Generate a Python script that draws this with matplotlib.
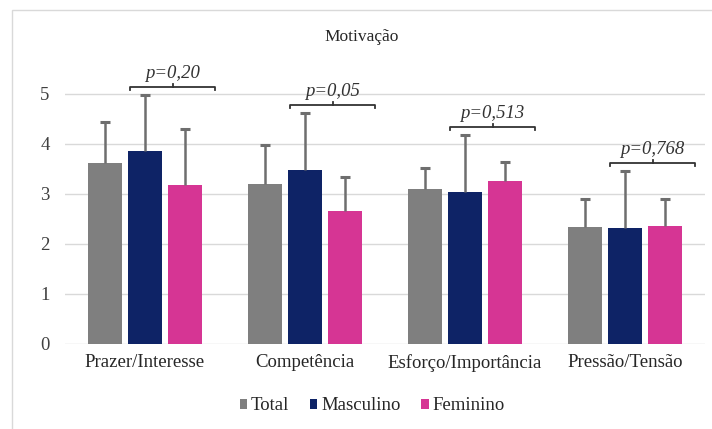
import matplotlib
matplotlib.use("Agg")
import matplotlib.pyplot as plt
import matplotlib.patches as patches
import numpy as np

plt.rcParams['font.family'] = ['Liberation Serif', 'DejaVu Serif']

categorias = ["Prazer/Interesse", "Competência", "Esforço/Importância", "Pressão/Tensão"]
series = ["Total", "Masculino", "Feminino"]
total = [3.63, 3.21, 3.10, 2.34]
masculino = [3.86, 3.48, 3.04, 2.33]
feminino = [3.18, 2.66, 3.26, 2.37]
total_dp = [0.81, 0.77, 0.42, 0.56]
masculino_dp = [1.12, 1.14, 1.14, 1.14]
feminino_dp = [1.12, 0.69, 0.38, 0.53]
p_valores = ["p=0,20", "p=0,05", "p=0,513", "p=0,768"]
yticks = [0, 1, 2, 3, 4, 5]

cores = ["#7f7f7f", "#0e2366", "#d63594"]

fig = plt.figure(figsize=(7.12, 4.29), dpi=100)
ax = fig.add_axes([65/712, 1-344/429, 640/712, 280/429])

x = np.arange(len(categorias))
w = 0.2125
off = 0.25
medias = np.array([total, masculino, feminino])
dps = np.array([total_dp, masculino_dp, feminino_dp])
for i in range(len(series)):
    xs = x + (i-1)*off
    ax.bar(xs, medias[i], width=w, color=cores[i], label=series[i], zorder=2)
    # barra de erro só para cima (estilo Excel)
    ax.vlines(xs, medias[i], medias[i] + dps[i], color='#6e6e6e', lw=1.8, zorder=3)
    ax.plot(xs, medias[i] + dps[i], ls='none', marker='_', ms=7, mew=2.2,
            color='#6e6e6e', zorder=3)

# chavetas com valor p
for i in range(len(categorias)):
    topo = max(medias[:, i] + dps[:, i]) + 0.16
    x0 = x[i] - 0.094
    x1 = x[i] + 0.44
    xm = (x0 + x1)/2
    ax.plot([x0, x0, x1, x1], [topo-0.06, topo, topo, topo-0.06], color='#333333',
            lw=1.3, clip_on=False, zorder=4)
    ax.plot([xm, xm], [topo, topo+0.06], color='#333333', lw=1.3, clip_on=False, zorder=4)
    ax.text(xm, topo+0.1, p_valores[i], ha='center', va='bottom', fontsize=13.5,
            style='italic', color='#333333')

ax.set_xlim(-0.5, 3.5)
ax.set_ylim(0, 5.6)
ax.set_yticks(yticks)
ax.set_xticks(x)
ax.set_xticklabels(categorias, fontsize=13.5)
ax.tick_params(axis='y', length=0, pad=11, labelsize=13.5, labelcolor='#404040')
ax.tick_params(axis='x', length=0, pad=7, labelcolor='#262626')
ax.grid(axis='y', color='#d9d9d9', lw=1, zorder=0)
ax.set_axisbelow(True)
for s in ax.spines.values():
    s.set_visible(False)

fig.text(362/712, 1-37/429, "Motivação", ha='center', va='center', fontsize=12.5, color='#262626')

fig.legend(loc='center', bbox_to_anchor=(372/712, 1-406/429), ncol=3, frameon=False,
           fontsize=13.5, handlelength=0.4, handleheight=0.4, handletextpad=0.2,
           columnspacing=1.1, labelcolor='#262626')

fig.patches.append(patches.Rectangle((12/712, -0.2), 1.2, 1-10/429+0.2, fill=False,
                                     edgecolor='#d9d9d9', lw=1, transform=fig.transFigure))

fig.savefig("out.png", dpi=100)
